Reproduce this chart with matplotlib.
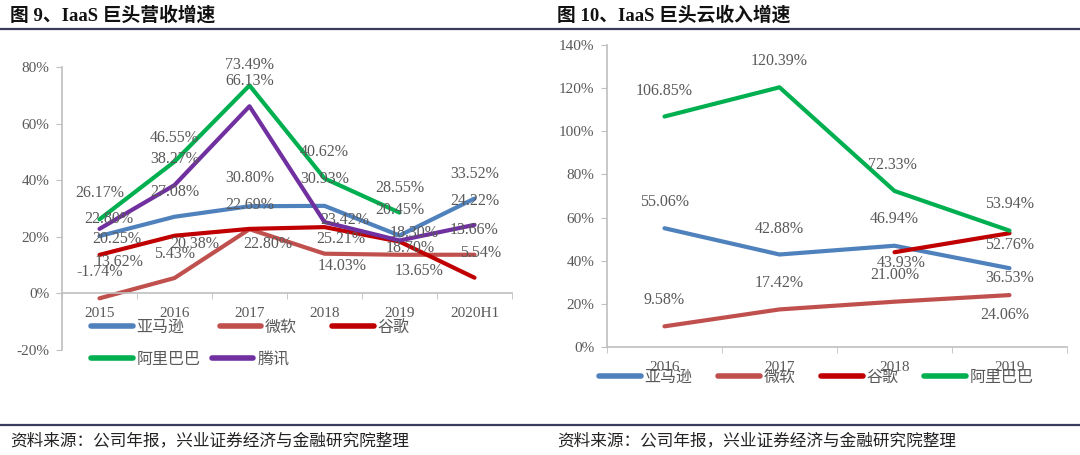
import numpy as np
import matplotlib.pyplot as plt

plt.rcParams['font.family'] = ['Liberation Serif', 'Noto Sans CJK SC']

# 图9 IaaS巨头营收增速 (%)
years_l = ['2015', '2016', '2017', '2018', '2019', '2020H1']
amazon_l = [20.25, 27.08, 30.80, 30.93, 20.45, 33.52]
microsoft_l = [-1.74, 5.43, 22.69, 14.03, 13.65, 13.66]
google_l = [13.62, 20.38, 22.80, 23.42, 18.30, 5.54]
alibaba_l = [26.17, 46.55, 73.49, 40.62, 28.55, np.nan]
tencent_l = [22.80, 38.27, 66.13, 25.21, 18.70, 24.22]

# 图10 IaaS巨头云收入增速 (%)
years_r = ['2016', '2017', '2018', '2019']
amazon_r = [55.06, 42.88, 46.94, 36.53]
microsoft_r = [9.58, 17.42, 21.00, 24.06]
google_r = [np.nan, np.nan, 43.93, 52.76]
alibaba_r = [106.85, 120.39, 72.33, 53.94]

names = ['亚马逊', '微软', '谷歌', '阿里巴巴', '腾讯']
colors = ['#4F81BD', '#C0504D', '#C00000', '#00B050', '#7030A0']

# 标签偏移(像素, 向下为正)
off_l = [
    [(17, 3), (0, -25), (0, -28), (0, -27), (0, -26), (0, -25)],
    [(0, -26), (0, -24), (0, -24), (18, 12), (20, 16), (0, -25)],
    [(20, 7), (20, 8), (18, 15), (20, -7), (15, -9), (6, -25)],
    [(0, -26), (0, -24), (0, -20), (0, -26), (0, -25), None],
    [(9, -10), (0, -26), (0, -25), (16, 17), (11, 8), (0, -24)],
]
off_r = [
    [(0, -26), (0, -26), (0, -27), (0, 10)],
    [(0, -26), (0, -26), (0, -27), (-5, 20)],
    [None, None, (7, 11), (0, 12)],
    [(0, -26), (0, -26), (-2, -26), (0, -27)],
]

W, H = 1080, 455
fig = plt.figure(figsize=(W / 100, H / 100), dpi=100)
gray = '#595959'
axcol = '#BFBFBF'


def style_axes(ax, ylo, yhi, ystep, cats):
    n = len(cats)
    ax.set_xlim(-0.5, n - 0.5)
    ax.set_ylim(ylo, yhi)
    for s in ['top', 'right']:
        ax.spines[s].set_visible(False)
    ax.spines['bottom'].set_position(('data', 0))
    ax.spines['bottom'].set_color(axcol)
    ax.spines['left'].set_color(axcol)
    ax.spines['bottom'].set_linewidth(1.2)
    ax.spines['left'].set_linewidth(1.2)
    ax.set_xticks(range(n))
    ax.set_xticklabels(cats, fontsize=11, color=gray)
    ax.set_xticks(np.arange(-0.5, n, 1), minor=True)
    ax.tick_params(axis='x', which='major', length=0, pad=10)
    ax.tick_params(axis='x', which='minor', length=4, color=axcol, direction='out')
    yt = np.arange(ylo, yhi + 1, ystep)
    ax.set_yticks(yt)
    ax.set_yticklabels([f'{int(v)}%' for v in yt], fontsize=11, color=gray)
    ax.tick_params(axis='y', length=4, color=axcol, pad=5)
    ax.patch.set_alpha(0)


def draw(ax, series, cols, offs):
    x = np.arange(len(series[0]))
    hs = []
    for vals, c, off in zip(series, cols, offs):
        h, = ax.plot(x, vals, color=c, lw=3, solid_capstyle='round')
        hs.append(h)
        for xi, v, o in zip(x, vals, off):
            if o is None or np.isnan(v):
                continue
            ax.annotate(f'{v:.2f}%', (xi, v), xytext=(o[0], -o[1]),
                        textcoords='offset pixels', ha='center', va='center',
                        fontsize=11.5, color=gray)
    return hs


# 左图
axl = fig.add_axes([62 / W, 1 - 350 / H, 450 / W, 283 / H])
style_axes(axl, -20, 80, 20, years_l)
hl = draw(axl, [amazon_l, microsoft_l, google_l, alibaba_l, tencent_l], colors, off_l)

leg_kw = dict(frameon=False, borderpad=0, borderaxespad=0, handlelength=2.6,
              handletextpad=0.25, prop={'size': 11.5}, loc='center left')
leg1 = fig.legend(hl[:3], names[:3], ncol=3, columnspacing=2.2,
                  bbox_to_anchor=(91 / W, 1 - 328 / H), **leg_kw)
leg2 = fig.legend(hl[3:], names[3:], ncol=2, columnspacing=0.7,
                  bbox_to_anchor=(91 / W, 1 - 360 / H), **leg_kw)

# 右图
axr = fig.add_axes([607 / W, 1 - 347 / H, 460 / W, 302 / H])
style_axes(axr, 0, 140, 20, years_r)
hr = draw(axr, [amazon_r, microsoft_r, google_r, alibaba_r], colors[:4], off_r)
leg3 = fig.legend(hr, names[:4], ncol=4, columnspacing=1.6,
                  bbox_to_anchor=(599 / W, 1 - 378 / H), **leg_kw)

for leg in [leg1, leg2, leg3]:
    for t in leg.get_texts():
        t.set_color(gray)
    for l in leg.get_lines():
        l.set_linewidth(4)

# 标题、分隔线、资料来源
fig.text(10 / W, 1 - 15 / H, '图 9、IaaS 巨头营收增速', fontsize=13.5,
         fontweight='bold', va='center', ha='left', color='#111111')
fig.text(557 / W, 1 - 15 / H, '图 10、IaaS 巨头云收入增速', fontsize=13.5,
         fontweight='bold', va='center', ha='left', color='#111111')
for yy in [29, 425]:
    fig.add_artist(plt.Line2D([0, 1], [1 - yy / H, 1 - yy / H],
                              transform=fig.transFigure, color='#3A3A5C', lw=1.6))
src = '资料来源：公司年报，兴业证券经济与金融研究院整理'
fig.text(10 / W, 1 - 441 / H, src, fontsize=12, va='center', ha='left', color='#222222')
fig.text(557 / W, 1 - 441 / H, src, fontsize=12, va='center', ha='left', color='#222222')

fig.savefig('out.png', dpi=100)
